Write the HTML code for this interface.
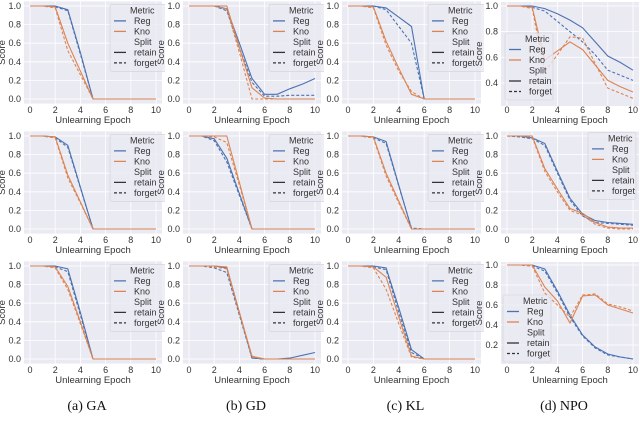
<!DOCTYPE html>
<html><head><meta charset="utf-8"><style>
html,body{margin:0;padding:0;background:#fff;}
svg{display:block;font-family:"Liberation Sans",sans-serif;}
</style></head><body>
<svg id="fig" width="640" height="429" viewBox="0 0 640 429" xmlns="http://www.w3.org/2000/svg"></svg>
<script>
const epochs=[0,1,2,3,4,5,6,7,8,9,10];
const xTicks=[0,2,4,6,8,10];
const methods=["GA","GD","KL","NPO"];
const captions=["(a) GA","(b) GD","(c) KL","(d) NPO"];
const gaR1RegRetain=[1,1,1,0.96,0.5,0,0,0,0,0,0];
const gaR1RegForget=[1,1,0.99,0.95,0.48,0,0,0,0,0,0];
const gaR1KnoRetain=[1,1,0.99,0.6,0.3,0,0,0,0,0,0];
const gaR1KnoForget=[1,1,0.98,0.52,0.26,0,0,0,0,0,0];
const gdR1RegRetain=[1,1,1,0.97,0.6,0.22,0.05,0.05,0.11,0.16,0.22];
const gdR1RegForget=[1,1,1,0.95,0.55,0.18,0.03,0.03,0.04,0.04,0.04];
const gdR1KnoRetain=[1,1,1,1,0.55,0.12,0.01,0,0,0,0];
const gdR1KnoForget=[1,1,1,0.97,0.5,0,0,0,0,0,0];
const klR1RegRetain=[1,1,1,0.98,0.88,0.78,0,0,0,0,0];
const klR1RegForget=[1,1,1,0.96,0.78,0.6,0,0,0,0,0];
const klR1KnoRetain=[1,1,0.99,0.62,0.33,0.05,0,0,0,0,0];
const klR1KnoForget=[1,1,0.98,0.58,0.3,0.08,0,0,0,0,0];
const npoR1RegRetain=[1,1,1,0.98,0.94,0.89,0.83,0.72,0.61,0.56,0.5];
const npoR1RegForget=[1,1,0.99,0.96,0.88,0.8,0.72,0.62,0.5,0.46,0.42];
const npoR1KnoRetain=[1,1,0.99,0.58,0.65,0.72,0.66,0.54,0.42,0.37,0.33];
const npoR1KnoForget=[1,1,0.98,0.49,0.62,0.76,0.75,0.55,0.36,0.32,0.28];
const gaR2RegRetain=[1,1,0.99,0.9,0.45,0,0,0,0,0,0];
const gaR2RegForget=[1,1,0.98,0.88,0.44,0,0,0,0,0,0];
const gaR2KnoRetain=[1,1,0.99,0.58,0.29,0,0,0,0,0,0];
const gaR2KnoForget=[1,1,0.98,0.55,0.28,0,0,0,0,0,0];
const gdR2RegRetain=[1,1,0.97,0.76,0.38,0,0,0,0,0,0];
const gdR2RegForget=[1,1,0.95,0.72,0.36,0,0,0,0,0,0];
const gdR2KnoRetain=[1,1,1,1,0.5,0,0,0,0,0,0];
const gdR2KnoForget=[1,1,0.99,0.93,0.47,0,0,0,0,0,0];
const klR2RegRetain=[1,1,0.99,0.94,0.47,0,0,0,0,0,0];
const klR2RegForget=[1,1,0.98,0.92,0.46,0.01,0,0,0,0,0];
const klR2KnoRetain=[1,1,0.99,0.6,0.3,0,0,0,0,0,0];
const klR2KnoForget=[1,1,0.98,0.57,0.28,0,0,0,0,0,0];
const npoR2RegRetain=[1,1,0.98,0.92,0.62,0.33,0.16,0.09,0.07,0.06,0.05];
const npoR2RegForget=[1,0.99,0.97,0.9,0.6,0.31,0.14,0.07,0.06,0.05,0.04];
const npoR2KnoRetain=[1,1,1,0.65,0.43,0.22,0.17,0.07,0.02,0.01,0.01];
const npoR2KnoForget=[1,1,0.99,0.62,0.4,0.2,0.15,0.05,0.01,0,0];
const gaR3RegRetain=[1,1,1,0.97,0.5,0,0,0,0,0,0];
const gaR3RegForget=[1,1,0.99,0.94,0.47,0,0,0,0,0,0];
const gaR3KnoRetain=[1,1,0.99,0.78,0.4,0,0,0,0,0,0];
const gaR3KnoForget=[1,1,0.98,0.75,0.38,0,0,0,0,0,0];
const gdR3RegRetain=[1,1,1,0.98,0.5,0.01,0,0,0.01,0.04,0.07];
const gdR3RegForget=[1,1,0.98,0.93,0.47,0.01,0,0,0,0,0];
const gdR3KnoRetain=[1,1,1,0.99,0.5,0.03,0,0,0,0,0];
const gdR3KnoForget=[1,1,0.99,0.97,0.49,0.02,0,0,0,0,0];
const klR3RegRetain=[1,1,1,0.98,0.55,0.1,0,0,0,0,0];
const klR3RegForget=[1,1,0.99,0.96,0.5,0.07,0,0,0,0,0];
const klR3KnoRetain=[1,1,0.99,0.88,0.45,0.03,0,0,0,0,0];
const klR3KnoForget=[1,1,0.98,0.75,0.38,0.02,0,0,0,0,0];
const npoR3RegRetain=[1,1,1,0.96,0.74,0.5,0.3,0.18,0.11,0.08,0.06];
const npoR3RegForget=[1,1,0.99,0.94,0.72,0.48,0.29,0.17,0.1,0.08,0.06];
const npoR3KnoRetain=[1,1,1,0.78,0.64,0.42,0.69,0.7,0.6,0.56,0.52];
const npoR3KnoForget=[1,1,0.99,0.72,0.6,0.48,0.7,0.71,0.61,0.58,0.54];
const yTicksStd=[0,0.2,0.4,0.6,0.8,1.0];
const yTicksNpo1=[0.4,0.6,0.8,1.0];
const yTicksNpo3=[0.2,0.4,0.6,0.8,1.0];

const data=[
 [[gaR1RegRetain,gaR1RegForget,gaR1KnoRetain,gaR1KnoForget],[gdR1RegRetain,gdR1RegForget,gdR1KnoRetain,gdR1KnoForget],[klR1RegRetain,klR1RegForget,klR1KnoRetain,klR1KnoForget],[npoR1RegRetain,npoR1RegForget,npoR1KnoRetain,npoR1KnoForget]],
 [[gaR2RegRetain,gaR2RegForget,gaR2KnoRetain,gaR2KnoForget],[gdR2RegRetain,gdR2RegForget,gdR2KnoRetain,gdR2KnoForget],[klR2RegRetain,klR2RegForget,klR2KnoRetain,klR2KnoForget],[npoR2RegRetain,npoR2RegForget,npoR2KnoRetain,npoR2KnoForget]],
 [[gaR3RegRetain,gaR3RegForget,gaR3KnoRetain,gaR3KnoForget],[gdR3RegRetain,gdR3RegForget,gdR3KnoRetain,gdR3KnoForget],[klR3RegRetain,klR3RegForget,klR3KnoRetain,klR3KnoForget],[npoR3RegRetain,npoR3RegForget,npoR3KnoRetain,npoR3KnoForget]]
];

const NS="http://www.w3.org/2000/svg";
const svg=document.getElementById('fig');
function mk(tag,attrs,parent){const e=document.createElementNS(NS,tag);for(const k in attrs)e.setAttribute(k,attrs[k]);(parent||svg).appendChild(e);return e;}
const colX=[[30,156],[189,315],[348,475],[507,633]];
const rowY=[[6,99],[136,229],[266,359]];
const BLUE="#4c72b0",ORANGE="#dd8452",TXT="#333";

for(let r=0;r<3;r++){for(let c=0;c<4;c++){
  const [x0,x10]=colX[c];
  let yTop,yBot,ys,ticks;
  if(c===3&&r===0){ys=v=>6+(1-v)*128.3;yTop=2;yBot=106;ticks=yTicksNpo1;}
  else if(c===3&&r===2){ys=v=>265+(1-v)*100;yTop=262;yBot=364;ticks=yTicksNpo3;}
  else{const [y1,y0]=rowY[r];ys=v=>y0-(y0-y1)*v;yTop=y1-4.6;yBot=y0+4.6;ticks=yTicksStd;}
  const xs=e=>x0+(x10-x0)*e/10;
  const L=x0-6,R=x10+6;
  const g=mk('g',{});
  
  
  const cid='clip'+r+c;
  const cp=mk('clipPath',{id:cid},g);mk('rect',{x:L-30,y:yTop-3,width:R-L+30+(c<3?3:6),height:yBot-yTop+30},cp);
  const inner=mk('g',{'clip-path':'url(#'+cid+')'},g);
  const bg=mk('rect',{x:L,y:yTop,width:R-L,height:yBot-yTop,fill:'#eaeaf2'},inner);
  
  
  ticks.forEach(t=>{const y=ys(t);
    mk('line',{x1:L,x2:R,y1:y,y2:y,stroke:'#fff','stroke-width':0.8},inner);
    const tl=mk('text',{x:L-3,y:y+3,'font-size':9,fill:TXT,'text-anchor':'end'},inner);tl.textContent=t.toFixed(1);
    
    
  });
  xTicks.forEach(t=>{const x=xs(t);
    mk('line',{x1:x,x2:x,y1:yTop,y2:yBot,stroke:'#fff','stroke-width':0.8},inner);
    const tl=mk('text',{x:x,y:rowY[r][1]+14,'font-size':9,fill:TXT,'text-anchor':'middle'},inner);tl.textContent=t;
    
    
  });
  const series=data[r][c];
  const styles=[[BLUE,''],[BLUE,'3,2'],[ORANGE,''],[ORANGE,'3,2']];
  const names=['reg-retain-line','reg-forget-line','kno-retain-line','kno-forget-line'];
  series.forEach((s,i)=>{
    const pts=s.map((v,k)=>xs(epochs[k]).toFixed(1)+','+ys(v).toFixed(1)).join(' ');
    const pl=mk('polyline',{points:pts,fill:'none',stroke:styles[i][0],'stroke-width':1.1,'stroke-dasharray':styles[i][1]},inner);
    
    
  });
  let lx,ly;
  if(c<3){lx=L+(111-25);ly=yTop+3;}
  else if(r===1){lx=588;ly=yTop+1;}
  else if(r===0){lx=505;ly=33;}
  else {lx=503;ly=295;}
  const lg=mk('g',{},inner);
  
  
  mk('rect',{x:lx,y:ly,width:(c<3?58:48),height:67,fill:'#eaeaf2','fill-opacity':0.8,stroke:'#d0d0d8','stroke-width':0.6,rx:2},lg);
  const items=[['Metric',null,''],['Reg',BLUE,''],['Kno',ORANGE,''],['Split',null,''],['retain','#333',''],['forget','#333','3,2']];
  items.forEach((it,k)=>{const yy=ly+9+k*10.5;
    if(it[1]){mk('line',{x1:lx+4,x2:lx+16,y1:yy-3,y2:yy-3,stroke:it[1],'stroke-width':1.3,'stroke-dasharray':it[2]},lg);}
    const t=mk('text',{x:it[1]?lx+24:lx+(it[0]==='Metric'?20:24),y:yy,'font-size':9,fill:TXT},lg);t.textContent=it[0];
    
    
  });
  const xt=mk('text',{x:(L+R)/2,y:rowY[r][1]+24,'font-size':9.5,fill:TXT,'text-anchor':'middle'},g);xt.textContent='Unlearning Epoch';
  
  
  const cy=(yTop+yBot)/2;
  const yt=mk('text',{x:L-19,y:cy,'font-size':9.5,fill:TXT,'text-anchor':'middle',transform:'rotate(-90 '+(L-19)+' '+cy+')'},g);yt.textContent='Score';
  
  
}}
captions.forEach((cap,c)=>{const [x0,x10]=colX[c];
  const t=mk('text',{x:(x0+x10)/2-6,y:410,'font-size':14,fill:'#111','text-anchor':'middle','font-family':'Liberation Serif, serif'});
  t.textContent=cap;
  
  
});
</script>
</body></html>
